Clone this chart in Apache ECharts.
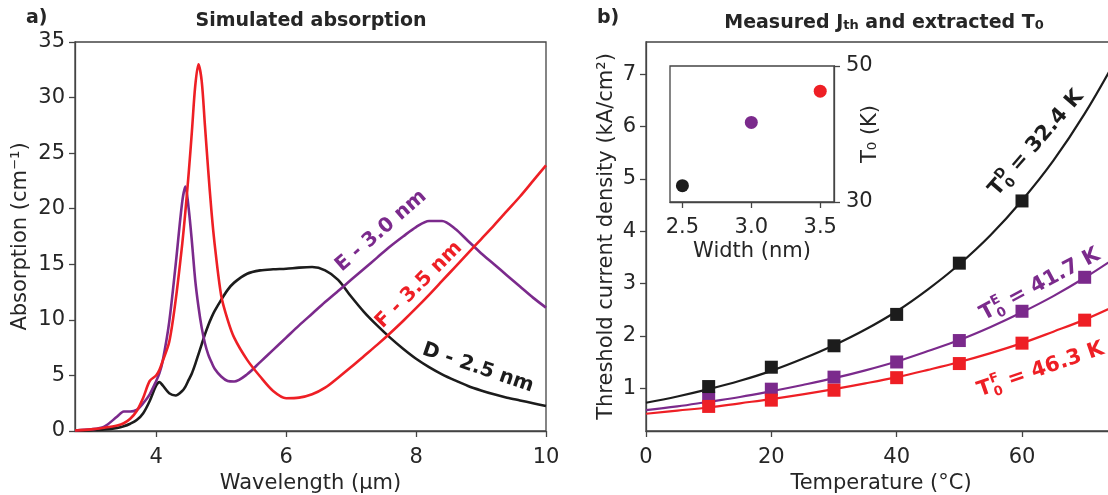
<!DOCTYPE html>
<html><head><meta charset="utf-8">
<script src="https://cdn.jsdelivr.net/npm/echarts@6/dist/echarts.min.js"></script>
<style>html,body{margin:0;padding:0;background:#fff}#c{width:1108px;height:495px}</style>
</head><body><div id="c"></div>
<script>
// ---------- Panel a: simulated absorption ----------
const wavelength = [2.75,3.0,3.2,3.4,3.5,3.6,3.7,3.8,3.9,4.0,4.05,4.1,4.2,4.3,4.4,4.45,4.5,4.55,4.6,4.65,4.7,4.75,4.8,4.85,4.9,5.0,5.1,5.2,5.4,5.6,5.8,6.0,6.2,6.4,6.6,6.8,7.0,7.2,7.4,7.6,7.8,8.0,8.2,8.4,8.6,8.8,9.0,9.2,9.4,9.6,9.8,10.0];
const absD = [0.03,0.08,0.14,0.28,0.42,0.65,0.98,1.6,2.7,4.1,4.4,4.1,3.4,3.2,3.6,4.0,4.6,5.2,6.0,6.9,7.8,8.7,9.5,10.2,10.8,11.8,12.7,13.35,14.15,14.45,14.55,14.6,14.7,14.75,14.45,13.6,12.1,10.7,9.5,8.4,7.4,6.5,5.75,5.1,4.55,4.05,3.65,3.3,3.0,2.75,2.5,2.25];
const absE = [0.05,0.15,0.4,1.3,1.75,1.75,1.9,2.5,3.3,4.5,5.2,6.3,9.8,15.0,20.6,22.0,20.0,17.0,13.6,11.2,9.3,7.9,6.9,6.2,5.6,4.9,4.5,4.45,5.1,6.2,7.3,8.4,9.5,10.55,11.6,12.6,13.6,14.6,15.6,16.6,17.5,18.35,18.9,18.9,18.2,17.1,16.0,15.0,14.0,13.0,12.0,11.1];
const absF = [0.05,0.15,0.3,0.5,0.7,1.1,1.8,3.0,4.5,5.0,5.5,6.3,8.0,11.8,16.8,19.8,23.2,27.0,31.0,33.0,31.5,27.5,23.5,19.8,16.8,12.2,10.0,8.4,6.4,4.9,3.6,2.95,3.0,3.3,3.9,4.8,5.75,6.75,7.75,8.8,9.9,11.05,12.25,13.5,14.75,16.0,17.25,18.5,19.8,21.1,22.5,23.9];
const xTicksA = [4,6,8,10];

// ---------- Panel b: measured Jth ----------
const tempD = [10,20,30,40,50,60];
const jthD = [1.03,1.40,1.81,2.41,3.39,4.58];
const tempEF = [10,20,30,40,50,60,70];
const jthE = [0.81,0.98,1.21,1.50,1.91,2.47,3.12];
const jthF = [0.65,0.77,0.96,1.20,1.47,1.86,2.30];
const tempFit = [0,5,10,15,20,25,30,35,40,45,50,55,60,65,70,75];
const fitD = [0.72,0.84,0.98,1.14,1.33,1.56,1.82,2.12,2.47,2.89,3.37,3.93,4.59,5.35,6.25,7.29];
const fitE = [0.58,0.65,0.74,0.83,0.94,1.06,1.19,1.34,1.51,1.71,1.92,2.17,2.45,2.76,3.11,3.50];
const fitF = [0.51,0.57,0.63,0.71,0.79,0.88,0.98,1.09,1.21,1.35,1.50,1.67,1.86,2.08,2.31,2.58];
const xTicksB = [0,20,40,60];
const yTicksB = [1,2,3,4,5,6,7];

// ---------- Inset: T0 vs width ----------
const widths = [2.5,3.0,3.5];
const t0Values = [32.4,41.7,46.3];
const insetXTicks = [2.5,3.0,3.5];
const insetYTicks = [30,50];

const FONT = '"DejaVu Sans", sans-serif';
const cBlack = '#1c1c1c', cPurple = '#7b2a8c', cRed = '#ee1f25';
const axisCol = '#444';
const textCol = '#262626';

function axisBase(extra) {
  return Object.assign({
    type: 'value',
    axisLine: {show: true, onZero: false, lineStyle: {color: axisCol, width: 1.3}},
    splitLine: {show: false},
    nameTextStyle: {fontFamily: FONT, fontSize: 21, color: textCol},
  }, extra);
}
function ticks(vals, len) { return {show: true, inside: false, length: len || 6, customValues: vals, lineStyle: {color: axisCol, width: 1.3}}; }
function labels(vals, margin, fmt) {
  const o = {show: true, customValues: vals, fontFamily: FONT, fontSize: 21, color: textCol, margin: margin};
  if (fmt) o.formatter = fmt;
  return o;
}
const zip = (xs, ys) => xs.map((x, i) => [x, ys[i]]);

const chart = echarts.init(document.getElementById('c'), null, {renderer: 'canvas'});

function subLabel(cx, cy, rotDeg, sup, rest, color) {
  const f = 'bold 21px ' + FONT, fs = 'bold 13px ' + FONT;
  const al = {align: 'left', verticalAlign: 'middle', textAlign: 'left', textVerticalAlign: 'middle'};
  return {
    type: 'group', x: cx, y: cy, rotation: rotDeg * Math.PI / 180, z: 50,
    children: [
      {type: 'text', x: -72, y: 0, style: Object.assign({text: 'T', font: f, fill: color}, al)},
      {type: 'text', x: -57, y: -7, style: Object.assign({text: sup, font: fs, fill: color}, al)},
      {type: 'text', x: -57, y: 7, style: Object.assign({text: '0', font: fs, fill: color}, al)},
      {type: 'text', x: -47, y: 0, style: Object.assign({text: ' = ' + rest, font: f, fill: color}, al)}
    ]
  };
}
function rotText(cx, cy, rotDeg, txt, color) {
  return {type: 'text', x: cx, y: cy, rotation: rotDeg * Math.PI / 180, z: 50,
    style: {text: txt, font: 'bold 20px ' + FONT, fill: color, align: 'center', verticalAlign: 'middle', textAlign: 'center', textVerticalAlign: 'middle'}};
}

const gridBase = {show: true, borderColor: axisCol, borderWidth: 1.3, containLabel: false, outerBoundsMode: 'none'};
const option = {
  backgroundColor: '#fff',
  animation: false,
  grid: [
    Object.assign({left: 75, top: 42, width: 471, height: 389, backgroundColor: 'transparent'}, gridBase),
    Object.assign({left: 646, top: 42, width: 470, height: 389, backgroundColor: 'transparent'}, gridBase),
    Object.assign({left: 670, top: 66, width: 164, height: 136, backgroundColor: '#fff', z: 5}, gridBase)
  ],
  xAxis: [
    axisBase({gridIndex: 0, min: 2.75, max: 10, axisTick: ticks(xTicksA), axisLabel: labels(xTicksA, 16),
      name: 'Wavelength (µm)', nameLocation: 'middle', nameGap: 38}),
    axisBase({gridIndex: 1, min: 0, max: 75, axisTick: ticks(xTicksB), axisLabel: labels(xTicksB, 16),
      name: 'Temperature (°C)', nameLocation: 'middle', nameGap: 39}),
    axisBase({gridIndex: 2, min: 2.41, max: 3.6, axisTick: ticks(insetXTicks), axisLabel: labels(insetXTicks, 15, v => v.toFixed(1)),
      name: 'Width (nm)', nameLocation: 'middle', nameGap: 39, z: 6})
  ],
  yAxis: [
    axisBase({gridIndex: 0, min: 0, max: 35, interval: 5, axisTick: {show: true, inside: false, length: 6, lineStyle: {color: axisCol, width: 1.3}},
      axisLabel: {fontFamily: FONT, fontSize: 21, color: textCol, margin: 10},
      name: 'Absorption (cm⁻¹)', nameLocation: 'middle', nameGap: 44}),
    axisBase({gridIndex: 1, min: 0.18, max: 7.62, axisTick: ticks(yTicksB), axisLabel: labels(yTicksB, 10),
      name: 'Threshold current density (kA/cm²)', nameLocation: 'middle', nameGap: 29}),
    axisBase({gridIndex: 2, position: 'right', min: 30, max: 50, axisTick: ticks(insetYTicks), axisLabel: labels(insetYTicks, 12),
      name: 'T₀ (K)', nameLocation: 'middle', nameGap: 26, nameRotate: 90, nameMoveOverlap: false, z: 6})
  ],
  series: [
    {type: 'line', xAxisIndex: 0, yAxisIndex: 0, data: zip(wavelength, absD), smooth: 0.3, showSymbol: false, lineStyle: {color: cBlack, width: 2.6}, itemStyle: {color: cBlack}},
    {type: 'line', xAxisIndex: 0, yAxisIndex: 0, data: zip(wavelength, absE), smooth: 0.3, showSymbol: false, lineStyle: {color: cPurple, width: 2.6}, itemStyle: {color: cPurple}},
    {type: 'line', xAxisIndex: 0, yAxisIndex: 0, data: zip(wavelength, absF), smooth: 0.3, showSymbol: false, lineStyle: {color: cRed, width: 2.6}, itemStyle: {color: cRed}},

    {type: 'line', xAxisIndex: 1, yAxisIndex: 1, data: zip(tempFit, fitD), smooth: 0.4, showSymbol: false, lineStyle: {color: cBlack, width: 2.2}, itemStyle: {color: cBlack}},
    {type: 'line', xAxisIndex: 1, yAxisIndex: 1, data: zip(tempFit, fitE), smooth: 0.4, showSymbol: false, lineStyle: {color: cPurple, width: 2.2}, itemStyle: {color: cPurple}},
    {type: 'line', xAxisIndex: 1, yAxisIndex: 1, data: zip(tempFit, fitF), smooth: 0.4, showSymbol: false, lineStyle: {color: cRed, width: 2.2}, itemStyle: {color: cRed}},
    {type: 'scatter', xAxisIndex: 1, yAxisIndex: 1, data: zip(tempEF, jthE), symbol: 'rect', symbolSize: 13, itemStyle: {color: cPurple, opacity: 1}, z: 3},
    {type: 'scatter', xAxisIndex: 1, yAxisIndex: 1, data: zip(tempEF, jthF), symbol: 'rect', symbolSize: 13, itemStyle: {color: cRed, opacity: 1}, z: 3},
    {type: 'scatter', xAxisIndex: 1, yAxisIndex: 1, data: zip(tempD, jthD), symbol: 'rect', symbolSize: 13, itemStyle: {color: cBlack, opacity: 1}, z: 4},

    {type: 'scatter', xAxisIndex: 2, yAxisIndex: 2, symbolSize: 13, z: 7,
      data: widths.map((w, i) => ({value: [w, t0Values[i]], itemStyle: {color: [cBlack, cPurple, cRed][i], opacity: 1}}))}
  ],
  graphic: [
    {type: 'text', x: 26, y: 18, style: {text: 'a)', font: 'bold 19px ' + FONT, fill: textCol, align: 'left', verticalAlign: 'middle', textAlign: 'left', textVerticalAlign: 'middle'}},
    {type: 'text', x: 597, y: 18, style: {text: 'b)', font: 'bold 19px ' + FONT, fill: textCol, align: 'left', verticalAlign: 'middle', textAlign: 'left', textVerticalAlign: 'middle'}},
    {type: 'text', x: 311, y: 21, style: {text: 'Simulated absorption', font: 'bold 19px ' + FONT, fill: textCol, align: 'center', verticalAlign: 'middle', textAlign: 'center', textVerticalAlign: 'middle'}},
    {type: 'text', x: 884, y: 21, style: {
      text: '{m|Measured J}{s|th}{m| and extracted T}{s|0}',
      align: 'center', verticalAlign: 'middle', textAlign: 'center', textVerticalAlign: 'middle',
      rich: {
        m: {font: 'bold 19px ' + FONT, fill: textCol, color: textCol, verticalAlign: 'bottom', lineHeight: 23},
        s: {font: 'bold 13px ' + FONT, fill: textCol, color: textCol, verticalAlign: 'bottom', lineHeight: 23}
      }}},
    rotText(381, 231, 41, 'E - 3.0 nm', cPurple),
    rotText(419, 285, 45, 'F - 3.5 nm', cRed),
    rotText(478, 368, -19, 'D - 2.5 nm', cBlack),
    subLabel(1040, 139, 49, 'D', '32.4 K', cBlack),
    subLabel(1045, 282, 28, 'E', '41.7 K', cPurple),
    subLabel(1046, 368, 19, 'F', '46.3 K', cRed)
  ]
};
chart.setOption(option);
</script>
</body></html>
